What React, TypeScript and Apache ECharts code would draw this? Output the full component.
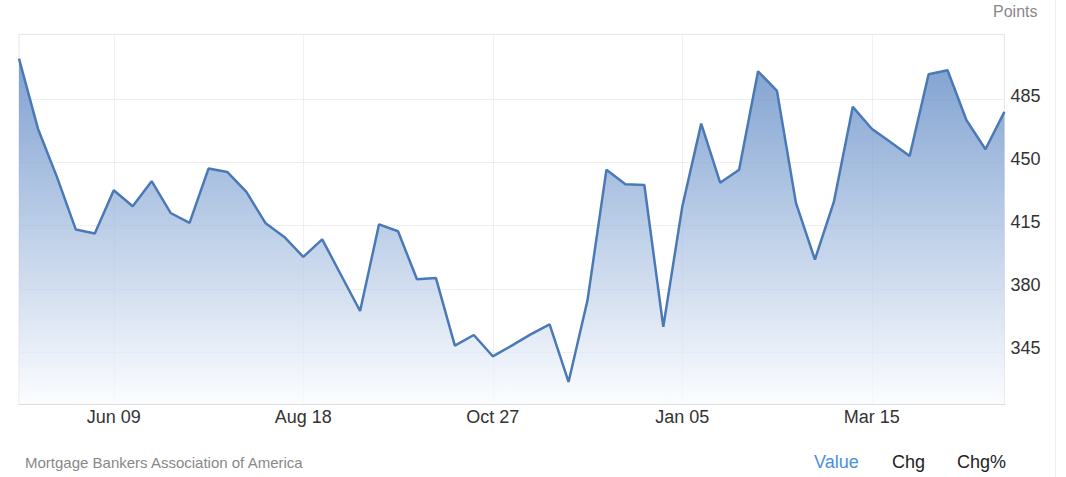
import React, { useEffect, useRef } from "react";
import * as echarts from "echarts";

const dates: string[] = [
  "May 05", "May 12", "May 19", "May 26", "Jun 02", "Jun 09", "Jun 16", "Jun 23", "Jun 30",
  "Jul 07", "Jul 14", "Jul 21", "Jul 28", "Aug 04", "Aug 11", "Aug 18", "Aug 25",
  "Sep 01", "Sep 08", "Sep 15", "Sep 22", "Sep 29", "Oct 06", "Oct 13", "Oct 20", "Oct 27",
  "Nov 03", "Nov 10", "Nov 17", "Nov 24", "Dec 01", "Dec 08", "Dec 15", "Dec 22", "Dec 29",
  "Jan 05", "Jan 12", "Jan 19", "Jan 26", "Feb 02", "Feb 09", "Feb 16", "Feb 23",
  "Mar 01", "Mar 08", "Mar 15", "Mar 22", "Mar 29", "Apr 05", "Apr 12", "Apr 19", "Apr 26", "May 03",
];

const values: number[] = [
  507.5, 468.7, 442.0, 412.8, 410.6, 434.6, 425.7, 439.6, 422.0, 416.5,
  446.6, 444.7, 433.7, 416.5, 408.7, 397.7, 407.4, 387.5, 367.7, 415.7,
  411.9, 385.3, 386.0, 348.5, 354.4, 342.6, 348.5, 354.7, 360.3, 328.4,
  373.6, 446.0, 437.9, 437.5, 358.9, 425.4, 471.5, 438.8, 446.0, 500.5,
  489.6, 427.6, 396.2, 428.1, 480.8, 468.7, 461.2, 453.6, 498.9, 501.1,
  473.4, 457.3, 478.0,
];

const yTicks: number[] = [345, 380, 415, 450, 485];
const xLabelIndices: number[] = [5, 15, 25, 35, 45];

const unitLabel = "Points";
const sourceLabel = "Mortgage Bankers Association of America";
const tabs = ["Value", "Chg", "Chg%"];

export default function App() {
  const ref = useRef<HTMLDivElement>(null);

  useEffect(() => {
    if (!ref.current) return;
    const chart = echarts.init(ref.current, undefined, { renderer: "svg" });
    const font = "Liberation Sans, Arial, sans-serif";
    chart.setOption({
      animation: false,
      textStyle: { fontFamily: font },
      grid: {
        left: 19,
        right: 61.6,
        top: 34.3,
        bottom: 72.7,
        show: true,
        borderColor: "#e4e4e4",
        borderWidth: 1,
        backgroundColor: "transparent",
      },
      xAxis: {
        type: "category",
        data: dates,
        boundaryGap: false,
        axisLine: { show: true, lineStyle: { color: "#d6d6d6", width: 1 } },
        axisTick: { show: false },
        axisLabel: {
          interval: (i: number) => xLabelIndices.includes(i),
          color: "#333",
          fontSize: 18,
          fontFamily: font,
          margin: 4,
        },
        splitLine: {
          show: true,
          interval: (i: number) => xLabelIndices.includes(i),
          lineStyle: { color: "#e2e2e2", type: "dotted", width: 1 },
        },
      },
      yAxis: {
        type: "value",
        position: "right",
        min: 316,
        max: 521,
        axisLine: { show: false },
        axisTick: { show: false, customValues: yTicks },
        axisLabel: {
          customValues: yTicks,
          color: "#333",
          fontSize: 18,
          fontFamily: font,
          margin: 6,
          verticalAlign: "bottom",
          lineHeight: 7,
        },
        splitLine: {
          show: true,
          lineStyle: { color: "#efefef", width: 1 },
        },
      },
      series: [
        {
          type: "line",
          data: values,
          showSymbol: false,
          symbol: "none",
          smooth: false,
          lineStyle: { color: "#4a79b6", width: 2.5 },
          itemStyle: { color: "#4a79b6" },
          areaStyle: {
            color: new echarts.graphic.LinearGradient(0, 0, 0, 1, [
              { offset: 0, color: "rgba(74,122,189,1)" },
              { offset: 1, color: "rgba(250,252,255,1)" },
            ]),
          },
        },
      ],
      graphic: [
        {
          type: "line",
          shape: { x1: 1055.5, y1: 0, x2: 1055.5, y2: 477 },
          style: { stroke: "#eeeeee", lineWidth: 1 },
        },
        {
          type: "text",
          left: 993,
          top: 3,
          style: { text: unitLabel, font: `16px ${font}`, fill: "#888" },
        },
        {
          type: "text",
          left: 25,
          top: 455,
          style: { text: sourceLabel, font: `15px ${font}`, fill: "#888" },
        },
        {
          type: "text",
          left: 814,
          top: 453,
          style: { text: tabs[0], font: `18px ${font}`, fill: "#4a8fe0" },
        },
        {
          type: "text",
          left: 892,
          top: 453,
          style: { text: tabs[1], font: `18px ${font}`, fill: "#222" },
        },
        {
          type: "text",
          left: 957,
          top: 453,
          style: { text: tabs[2], font: `18px ${font}`, fill: "#222" },
        },
      ],
    });
    return () => chart.dispose();
  }, []);

  return (
    <div
      ref={ref}
      style={{ position: "absolute", left: 0, top: 0, width: 1066, height: 477, background: "#fff" }}
    />
  );
}
